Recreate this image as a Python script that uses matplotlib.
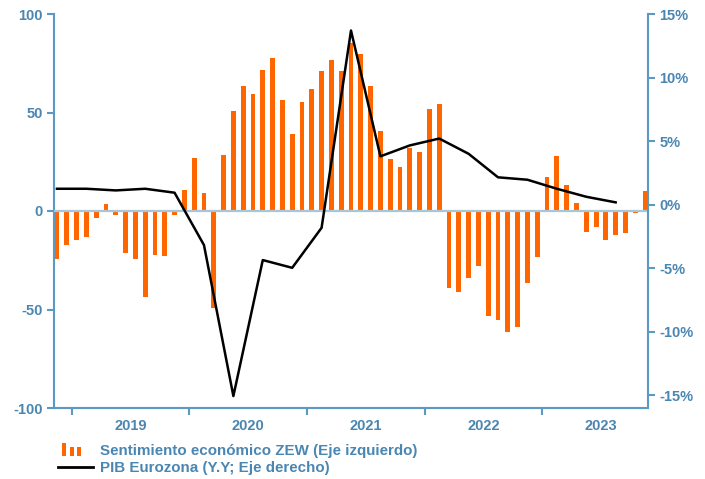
import matplotlib
matplotlib.use("Agg")
import matplotlib.pyplot as plt
import numpy as np
from matplotlib.patches import Rectangle
from matplotlib.lines import Line2D
from matplotlib.legend_handler import HandlerBase

plt.rcParams['font.family'] = ['Liberation Sans', 'DejaVu Sans']

# ZEW economic sentiment, monthly (Nov 2018 - Nov 2023)
zew = [-24.2, -17.4, -14.5, -13.2, -3.4, 3.4, -1.9, -21.1, -24.5, -43.9,
       -22.1, -22.6, -1.9, 10.8, 27.0, 9.0, -49.0, 28.4, 51.0, 63.3,
       59.5, 71.6, 77.5, 56.3, 38.9, 55.1, 61.8, 71.1, 76.7, 70.9,
       85.3, 79.9, 63.3, 40.4, 26.5, 22.5, 31.8, 29.9, 51.7, 54.2,
       -38.9, -40.9, -34.0, -27.9, -53.4, -55.1, -61.5, -58.8, -36.3, -23.3,
       17.2, 28.0, 13.0, 4.1, -10.5, -8.1, -14.5, -12.0, -11.1, -0.8,
       10.0]
# Eurozone GDP Y/Y (%), quarterly, placed every third month
gdp = [1.25, 1.25, 1.12, 1.25, 0.94, -3.18, -15.06, -4.36, -4.97, -1.82,
       13.7, 3.8, 4.66, 5.2, 4.0, 2.15, 1.96, 1.25, 0.62, 0.18]
years = ['2019', '2020', '2021', '2022', '2023']

left_ticks = [-100, -50, 0, 50, 100]
right_ticks = [-15, -10, -5, 0, 5, 10, 15]

ORANGE = '#FF6600'
BLUE = '#5A9AC2'
TXT = '#4A86B2'

x_bar = np.arange(len(zew))
x_gdp = np.arange(len(gdp)) * 3

fig = plt.figure(figsize=(7.05, 4.79), dpi=100)
ax = fig.add_axes([54/705, 1-408/479, (648-54)/705, (408-14)/479])
ax2 = ax.twinx()

ax.bar(x_bar, zew, width=0.5, color=ORANGE, zorder=2)
ax.axhline(0, color='#A9C6D9', lw=1.6, zorder=3)
ax.set_ylim(-100, 100)
ax.set_xlim(-0.3, 60.3)

ax2.plot(x_gdp, gdp, color='black', lw=1.8, zorder=4)
ax2.set_ylim(-16, 15)

ax.set_yticks(left_ticks)
ax.set_yticklabels([str(v) for v in left_ticks])
ax2.set_yticks(right_ticks)
ax2.set_yticklabels([f'{v}%' for v in right_ticks])

# year boundaries and labels
bounds = [1.5 + 12*i for i in range(len(years))]
ax.set_xticks(bounds)
ax.set_xticklabels([])
ax.set_xticks([b + 6 for b in bounds], minor=True)
ax.set_xticklabels(years, minor=True)
ax.tick_params(axis='x', which='minor', length=0, pad=8)
ax.tick_params(axis='x', which='major', length=5, width=1.5, color=BLUE, direction='out')

for a in (ax, ax2):
    for s in a.spines.values():
        s.set_visible(False)
    a.tick_params(axis='y', length=5, width=1.5, color=BLUE, direction='out', pad=3)
    for lab in a.get_yticklabels() + a.get_xticklabels(minor=True):
        lab.set_color(TXT)
        lab.set_fontweight('bold')
        lab.set_fontsize(10.5)

ax.spines['left'].set_visible(True)
ax.spines['left'].set_color(BLUE)
ax.spines['left'].set_linewidth(1.5)
ax.spines['bottom'].set_visible(True)
ax.spines['bottom'].set_color(BLUE)
ax.spines['bottom'].set_linewidth(1.5)
ax2.spines['right'].set_visible(True)
ax2.spines['right'].set_color(BLUE)
ax2.spines['right'].set_linewidth(1.5)


class BarIconHandler(HandlerBase):
    def create_artists(self, legend, orig_handle, xdescent, ydescent, width, height, fontsize, trans):
        arts = []
        bw = width * 0.12
        specs = [(0.11, 1.2), (0.34, 0.8), (0.54, 0.8)]
        for fx, fh in specs:
            r = Rectangle((xdescent + width*fx, -ydescent - 0.05*height), bw, height*fh,
                          facecolor=ORANGE, edgecolor='none', transform=trans)
            arts.append(r)
        return arts


bar_handle = Rectangle((0, 0), 1, 1, color=ORANGE)
line_handle = Line2D([0], [0], color='black', lw=2)
leg = fig.legend([bar_handle, line_handle],
                 ['Sentimiento económico ZEW (Eje izquierdo)', 'PIB Eurozona (Y.Y; Eje derecho)'],
                 handler_map={Rectangle: BarIconHandler()},
                 loc='upper left', bbox_to_anchor=(58/705, 1-444/479),
                 frameon=False, handlelength=2.3, handletextpad=0.5,
                 labelspacing=0.2, borderaxespad=0, borderpad=0,
                 prop={'size': 10.9, 'weight': 'bold'})
for t in leg.get_texts():
    t.set_color(TXT)

fig.savefig('out.png', dpi=100)
